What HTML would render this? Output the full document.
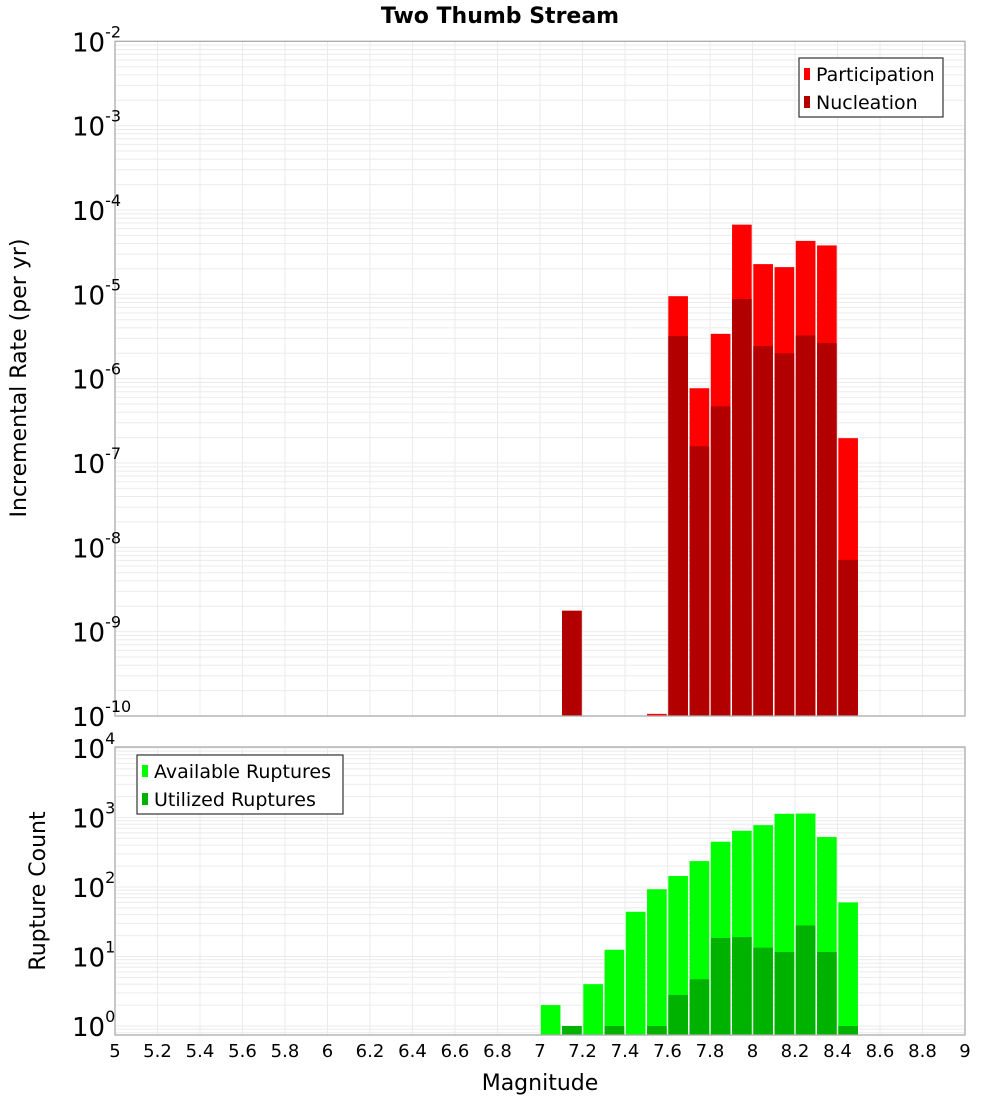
<!DOCTYPE html>
<html><head><meta charset="utf-8"><style>
html,body{margin:0;padding:0;background:#fff;}
svg{display:block;font-family:"DejaVu Sans","Liberation Sans",sans-serif;}
</style></head><body>
<svg id="c" width="1000" height="1100" xmlns="http://www.w3.org/2000/svg">
<text x="500" y="23" text-anchor="middle" font-size="22" font-weight="bold">Two Thumb Stream</text>
<text transform="translate(26,378) rotate(-90)" text-anchor="middle" font-size="22">Incremental Rate (per yr)</text>
<text transform="translate(45,891) rotate(-90)" text-anchor="middle" font-size="22">Rupture Count</text>
<text x="540" y="1090" text-anchor="middle" font-size="22">Magnitude</text>
</svg>
<script>
const mags=[7.0,7.1,7.2,7.3,7.4,7.5,7.6,7.7,7.8,7.9,8.0,8.1,8.2,8.3,8.4];
const participation=[0,1.77e-9,0,0,0,1.06e-10,9.5e-6,7.7e-7,3.4e-6,6.7e-5,2.28e-5,2.1e-5,4.3e-5,3.8e-5,1.97e-7];
const nucleation=[0,1.77e-9,0,0,0,0,3.2e-6,1.58e-7,4.7e-7,8.8e-6,2.43e-6,2.0e-6,3.25e-6,2.64e-6,7.1e-9];
const available=[2,1,4,12.5,44,93,144,236,448,644,776,1130,1140,525,60];
const utilized=[0,1,0,1,0,1,2.8,4.7,18.5,19,13.4,11.6,28,11.6,1];
const xTicks=[5,5.2,5.4,5.6,5.8,6,6.2,6.4,6.6,6.8,7,7.2,7.4,7.6,7.8,8,8.2,8.4,8.6,8.8,9];
const topExps=[-10,-9,-8,-7,-6,-5,-4,-3,-2];
const botExps=[0,1,2,3,4];

const NS="http://www.w3.org/2000/svg";
const svg=document.getElementById('c');
function mk(tag,at,parent){const e=document.createElementNS(NS,tag);for(const k in at)e.setAttribute(k,at[k]);(parent||svg).appendChild(e);return e;}
const X0=115,X1=965;
const xs=m=>X0+(m-5)/4*(X1-X0);
// top plot
const T={top:41.3,bot:716,lo:-10,hi:-2};
const B={top:747,bot:1035,y0:1026,pd:69.5};
const ty=v=>T.top+(T.hi-Math.log10(v))*(T.bot-T.top)/(T.hi-T.lo);
const by=v=>B.y0-Math.log10(v)*B.pd;

function grid(P,yf,loE,hiE){
  for(let e=loE;e<=hiE;e++){for(let k=1;k<=9;k++){const v=k*Math.pow(10,e);const y=yf(v);if(y<P.top-0.5||y>P.bot+0.5)continue;
    const l=mk('line',{x1:X0,x2:X1,y1:y,y2:y,stroke:'#ebebeb','stroke-width':1});
    
    }}
  xTicks.forEach(t=>{const l=mk('line',{x1:xs(t),x2:xs(t),y1:P.top,y2:P.bot,stroke:'#ebebeb','stroke-width':1});
    
    });
}
grid(T,ty,-10,-2);
grid(B,by,-1,4);

function bars(vals,yf,bot,color,name){
  vals.forEach((v,i)=>{if(!(v>0))return;const x=xs(mags[i])+0.8,w=xs(mags[i]+0.1)-xs(mags[i])-1.6;const y=Math.max(yf(v),0);
    const r=mk('rect',{x:x,y:y,width:w,height:bot-y,fill:color});
    
    });
}
bars(participation,ty,T.bot,'#ff0000','participation');
bars(nucleation,ty,T.bot,'#b20000','nucleation');
bars(available,by,B.bot,'#00ff00','available');
bars(utilized,by,B.bot,'#00b200','utilized');

[T,B].forEach((P,j)=>{const r=mk('rect',{x:X0,y:P.top,width:X1-X0,height:P.bot-P.top,fill:'none',stroke:'#aaaaaa','stroke-width':1.3});
  
  });

function ylab(y,e,name){const t=mk('text',{x:72,y:y+10,'font-size':26});t.textContent='10';
  const s=mk('tspan',{dy:-14,'font-size':16},t);s.textContent=String(e).replace('-','-');
  
  }
topExps.forEach(e=>ylab(ty(Math.pow(10,e)),e,'top-y-tick-label'));
botExps.forEach(e=>ylab(by(Math.pow(10,e)),e,'bottom-y-tick-label'));

xTicks.forEach(t=>{const tx=mk('text',{x:xs(t),y:1057,'text-anchor':'middle','font-size':18});tx.textContent=String(t);
  
  });

function legend(x,y,w,items,name){const g=mk('g',{});
  
  
  mk('rect',{x:x,y:y,width:w,height:59,fill:'#fff',stroke:'#333','stroke-width':1.2},g);
  items.forEach((it,i)=>{mk('rect',{x:x+5,y:y+10+i*28,width:6,height:12,fill:it[1]},g);
    const t=mk('text',{x:x+17,y:y+23+i*28,'font-size':19},g);t.textContent=it[0];});}
legend(799,58,144,[['Participation','#ff0000'],['Nucleation','#b20000']],'top-legend');
legend(137,755,206,[['Available Ruptures','#00ff00'],['Utilized Ruptures','#00b200']],'bottom-legend');
</script>
</body></html>
